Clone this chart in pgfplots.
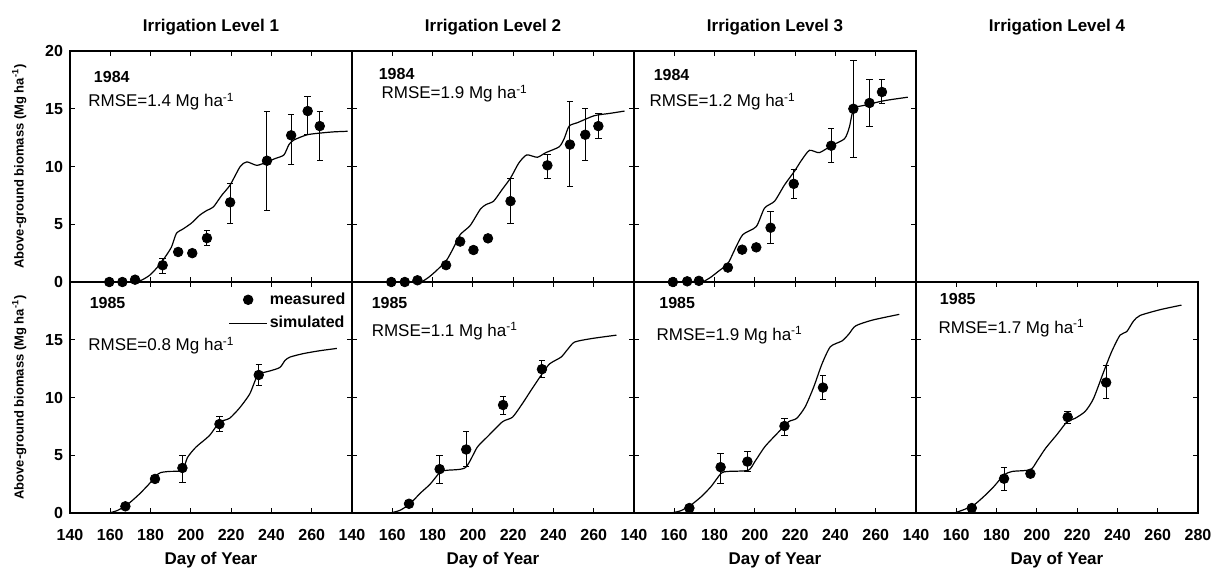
\documentclass[border=0pt]{standalone}
\usepackage{fontspec}
\setmainfont{Liberation Sans}
\usepackage{pgfplots}
\pgfplotsset{compat=1.18}
\pgfplotsset{
  panel/.style={
    scale only axis, width=141pt, height=115.5pt, anchor=south west,
    xmin=140, xmax=280, ymin=0, ymax=20,
    xtick={140,160,...,280}, ytick={0,5,...,20},
    tick align=inside, major tick length=2.4pt,
    xtick pos=both, ytick pos=both,
    axis line style={line width=0.6pt},
    every tick/.style={black, line width=0.5pt},
    /pgf/number format/assume math mode=true,
    tick label style={font=\fontsize{8}{9}\selectfont\bfseries},
    xticklabel style={yshift=-4.5pt},
    xticklabels={}, yticklabels={},
    xlabel style={font=\fontsize{8.5}{10}\selectfont\bfseries, at={(axis description cs:0.5,-0.205)}, anchor=center},
    ylabel style={font=\fontsize{6.5}{7.5}\selectfont\bfseries, at={(axis description cs:-0.18,0.5)}, anchor=center},
    title style={font=\fontsize{8.5}{10}\selectfont\bfseries, at={(axis description cs:0.5,1)}, anchor=center, yshift=6pt},
  },
  meas/.style={only marks, mark=*, mark size=2.4pt, black,
    error bars/.cd, y dir=both, y explicit,
    error bar style={line width=0.5pt, black},
    error mark options={rotate=90, mark size=1.6pt, line width=0.5pt, black},
    /pgfplots/.cd},
  sim/.style={no marks, black, line width=0.6pt, smooth, tension=0.4},
}
\tikzset{
  yr/.style={anchor=west, font=\fontsize{8}{9}\selectfont\bfseries},
  rm/.style={anchor=west, font=\fontsize{8.5}{10}\selectfont},
}
\newcommand{\Ylab}{Above-ground biomass (Mg ha\textsuperscript{-1})}
\begin{document}
\begin{tikzpicture}
\useasboundingbox (-35pt,-28.5pt) rectangle (572.5pt,256.5pt);
% ---------------- top row (1984)
\begin{axis}[panel, at={(0pt,115.5pt)}, title={Irrigation Level 1},
  yticklabels={0,5,10,15,20}, ylabel={\Ylab}]
\addplot[sim] coordinates {(173,0) (176,0.2) (179.5,0.58) (183,1.2) (186.2,1.9) (190.3,3.0) (192.8,4.2) (196.2,4.6) (200.3,5.1) (204.5,5.8) (208,6.2) (211.2,6.5) (215.3,7.5) (219.5,8.4) (224.5,10.0) (227.8,10.4) (232.8,10.1) (237.8,10.4) (242,10.7) (246.2,11.0) (248.7,11.9) (251.2,12.3) (257.8,12.75) (264.5,12.9) (271,13.0) (277.8,13.05)};
\addplot[meas] coordinates {(159.5,0) +- (0,0) (166,0) +- (0,0) (172.3,0.2) +- (0,0)
 (186,1.45) += (0,0.6) -= (0,0.7) (193.7,2.6) +- (0,0) (200.7,2.5) +- (0,0)
 (208,3.8) += (0,0.7) -= (0,0.6) (219.5,6.9) += (0,1.65) -= (0,1.8)
 (237.8,10.5) += (0,4.3) -= (0,4.35) (249.8,12.7) += (0,1.8) -= (0,2.55)
 (258,14.8) += (0,1.3) -= (0,2.05) (264,13.5) += (0,1.3) -= (0,3.0)};
\node[yr] at (rel axis cs:0.06,0.887) {1984};
\node[rm] at (rel axis cs:0.04,0.78) {RMSE=1.4 Mg ha\textsuperscript{-1}};
\end{axis}
\begin{axis}[panel, at={(141pt,115.5pt)}, title={Irrigation Level 2}]
\addplot[sim] coordinates {(174.5,0) (178,0.4) (182,1.0) (187,1.9) (190.5,3.0) (193.7,4.1) (198.7,4.9) (203.7,6.3) (206.5,6.7) (210.3,7.0) (214.5,8.0) (218.7,9.0) (222.8,10.3) (226.7,11.0) (232,10.8) (236.2,11.2) (242.8,11.7) (245.3,12.4) (247.8,13.5) (252,13.8) (260.3,14.4) (268,14.6) (275.3,14.8)};
\addplot[meas] coordinates {(159.5,0) +- (0,0) (166.2,0) +- (0,0) (172.5,0.15) +- (0,0)
 (186.7,1.46) +- (0,0) (193.7,3.5) +- (0,0) (200.3,2.77) +- (0,0) (207.5,3.78) +- (0,0)
 (218.7,7.0) += (0,2.0) -= (0,1.9) (237,10.1) += (0,0.95) -= (0,1.1)
 (248.2,11.9) += (0,3.7) -= (0,3.6) (255.8,12.75) += (0,2.25) -= (0,2.2)
 (262.3,13.5) += (0,1.1) -= (0,1.1)};
\node[yr] at (rel axis cs:0.07,0.9) {1984};
\node[rm] at (rel axis cs:0.08,0.815) {RMSE=1.9 Mg ha\textsuperscript{-1}};
\end{axis}
\begin{axis}[panel, at={(282pt,115.5pt)}, title={Irrigation Level 3}]
\addplot[sim] coordinates {(174.2,0) (178,0.4) (181.7,0.9) (186.6,1.6) (190,2.8) (194,4.1) (200.7,4.8) (204.8,6.4) (209.8,7.0) (214.7,8.4) (219.7,9.6) (223,10.5) (227.1,11.4) (232,11.2) (237.9,11.8) (244.5,12.4) (246.9,13.4) (249.1,15.0) (254.4,15.3) (264.3,15.7) (275.9,16.0)};
\addplot[meas] coordinates {(159.3,0) +- (0,0) (166.4,0.06) +- (0,0) (172.2,0.1) +- (0,0)
 (186.6,1.25) +- (0,0) (193.7,2.8) +- (0,0) (200.7,3.0) +- (0,0)
 (207.8,4.7) += (0,1.4) -= (0,1.35) (219.3,8.5) += (0,1.2) -= (0,1.25)
 (237.9,11.8) += (0,1.45) -= (0,1.45) (248.9,15.0) += (0,4.2) -= (0,4.2)
 (256.9,15.5) += (0,2.0) -= (0,2.0) (263.1,16.45) += (0,1.1) -= (0,1.0)};
\node[yr] at (rel axis cs:0.045,0.895) {1984};
\node[rm] at (rel axis cs:0.03,0.78) {RMSE=1.2 Mg ha\textsuperscript{-1}};
\end{axis}
\begin{axis}[panel, at={(423pt,115.5pt)}, hide axis, title={Irrigation Level 4}]
\end{axis}
% ---------------- bottom row (1985)
\begin{axis}[panel, at={(0pt,0pt)}, yticklabels={0,5,10,15,{}},
  xticklabels={140,160,180,200,220,240,260,{}}, xlabel={Day of Year}, ylabel={\Ylab},
  legend style={at={(rel axis cs:0.985,0.965)}, anchor=north east, draw=none, fill=none,
    inner sep=0pt, row sep=2.5pt, font=\fontsize{8}{9}\selectfont\bfseries,
    nodes={inner sep=1pt}},
  legend cell align=left]
\addlegendimage{legend image code/.code={\draw[black, mark=*, mark size=2.4pt] plot coordinates {(9.5pt,0pt)};}}
\addlegendentry{measured}
\addlegendimage{legend image code/.code={\draw[black, line width=0.6pt] (0pt,0pt) -- (19pt,0pt);}}
\addlegendentry{simulated}
\addplot[forget plot, sim] coordinates {(159.2,0) (163.3,0.2) (168.3,0.7) (174.2,1.6) (179.2,2.5) (182.5,3.2) (185,3.5) (189.2,3.6) (195.8,3.7) (198.3,4.8) (202.5,5.7) (209.2,6.7) (214.2,7.85) (219.2,8.2) (224.2,9.1) (229.2,10.3) (232.5,11.7) (235,12.1) (239.2,12.3) (244.2,12.6) (246.7,13.2) (249.2,13.5) (255.8,13.8) (264,14.05) (272.5,14.25)};
\addplot[forget plot, meas] coordinates {(167.5,0.58) +- (0,0) (182.2,2.95) +- (0,0)
 (195.8,3.9) += (0,1.07) -= (0,1.25) (214.2,7.7) += (0,0.66) -= (0,0.66)
 (233.7,11.95) += (0,0.9) -= (0,0.93)};
\node[yr] at (rel axis cs:0.045,0.91) {1985};
\node[rm] at (rel axis cs:0.04,0.725) {RMSE=0.8 Mg ha\textsuperscript{-1}};
\end{axis}
\begin{axis}[panel, at={(141pt,0pt)},
  xticklabels={140,160,180,200,220,240,260,{}}, xlabel={Day of Year}]
\addplot[sim] coordinates {(158.8,0) (163.8,0.23) (168.8,0.8) (173.8,1.7) (178.8,2.5) (183.8,3.55) (187.2,3.7) (196.3,3.93) (202.2,5.7) (207.2,6.6) (214.7,7.9) (219.7,8.3) (224.7,9.5) (228.8,10.6) (233.8,11.9) (238,12.9) (243.8,13.5) (247.2,14.2) (250.5,14.8) (258.8,15.1) (271.3,15.4)};
\addplot[meas] coordinates {(168.3,0.8) +- (0,0) (183.5,3.8) += (0,1.2) -= (0,1.25)
 (196.7,5.5) += (0,1.6) -= (0,1.5) (215,9.35) += (0,0.78) -= (0,0.8)
 (234.3,12.45) += (0,0.75) -= (0,0.7)};
\node[yr] at (rel axis cs:0.045,0.91) {1985};
\node[rm] at (rel axis cs:0.045,0.786) {RMSE=1.1 Mg ha\textsuperscript{-1}};
\end{axis}
\begin{axis}[panel, at={(282pt,0pt)},
  xticklabels={140,160,180,200,220,240,260,{}}, xlabel={Day of Year}]
\addplot[sim] coordinates {(158.3,0) (163.3,0.2) (168.3,0.7) (173.3,1.4) (178.3,2.3) (183.3,3.45) (186.7,3.6) (196.7,3.7) (200,4.45) (205,5.75) (211.7,7.0) (216.7,7.9) (220.8,8.2) (225,9.2) (229.2,10.9) (233.3,12.9) (237.5,14.4) (243.3,14.9) (246.7,15.5) (250,16.2) (258.3,16.7) (271.7,17.2)};
\addplot[meas] coordinates {(167.5,0.43) +- (0,0) (183,3.97) += (0,1.2) -= (0,1.38)
 (196.3,4.45) += (0,0.87) -= (0,0.86) (214.7,7.53) += (0,0.66) -= (0,0.78)
 (233.8,10.86) += (0,1.07) -= (0,1.03)};
\node[yr] at (rel axis cs:0.065,0.91) {1985};
\node[rm] at (rel axis cs:0.055,0.77) {RMSE=1.9 Mg ha\textsuperscript{-1}};
\end{axis}
\begin{axis}[panel, at={(423pt,0pt)},
  xticklabels={140,160,180,200,220,240,260,280}, xlabel={Day of Year}]
\addplot[sim] coordinates {(159,0) (163.9,0.3) (168.8,0.7) (173.8,1.45) (178.7,2.3) (183.7,3.3) (187.8,3.6) (196.8,3.75) (200.1,4.5) (204.3,5.6) (210,6.8) (215,7.9) (219,8.2) (224,8.8) (228.1,9.9) (233.1,12.2) (237.2,14.0) (241.3,15.4) (244.6,15.7) (247.9,16.6) (251.2,17.1) (261.1,17.6) (271.8,18.0)};
\addplot[meas] coordinates {(167.7,0.43) +- (0,0) (183.7,2.97) += (0,0.98) -= (0,1.04)
 (196.8,3.4) +- (0,0) (215.3,8.3) += (0,0.5) -= (0,0.52)
 (234.4,11.3) += (0,1.5) -= (0,1.42)};
\node[yr] at (rel axis cs:0.06,0.925) {1985};
\node[rm] at (rel axis cs:0.055,0.80) {RMSE=1.7 Mg ha\textsuperscript{-1}};
\end{axis}
\end{tikzpicture}
\end{document}
